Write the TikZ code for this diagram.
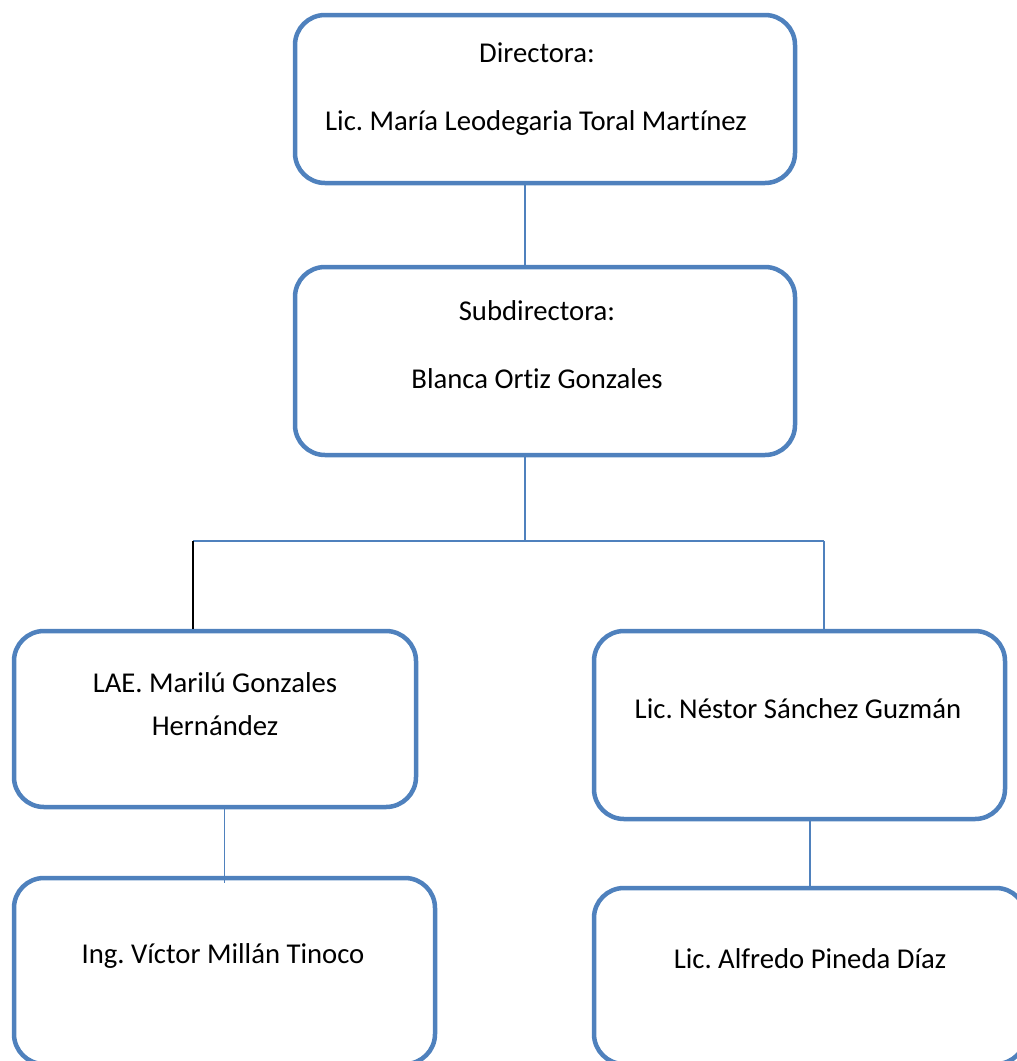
\documentclass[tikz,border=0pt]{standalone}
\usepackage{fontspec}
\setmainfont{Carlito}[Ligatures=NoCommon]
\frenchspacing
\definecolor{azul}{RGB}{79,129,189}

\begin{document}
\begin{tikzpicture}[x=1pt,y=-1pt,
  caja/.style={draw=azul,line width=4.5pt,rounded corners=30pt,inner sep=0pt},
  texto/.style={anchor=base,inner sep=0pt,font=\fontsize{28.7}{35}\selectfont},
  conector/.style={draw=azul,line width=1.8pt}]
\clip (0,0) rectangle (1017,1061);
% cajas
\node [caja,minimum width=500,minimum height=168] (dir) at (545,99) {};
\node [caja,minimum width=500,minimum height=188] (sub) at (545,361) {};
\node [caja,minimum width=402,minimum height=176] (lae) at (215,719) {};
\node [caja,minimum width=411,minimum height=188] (nes) at (799.5,725) {};
\node [caja,minimum width=421,minimum height=186] (ing) at (224.5,971) {};
\node [caja,minimum width=432,minimum height=176] (alf) at (810,976) {};
% textos
\node [texto] (dir1) at (537,62) {Directora:};
\node [texto] (dir2) at (536,130) {Lic. María Leodegaria Toral Martínez};
\node [texto] (sub1) at (537,320) {Subdirectora:};
\node [texto] (sub2) at (537,388) {Blanca Ortiz Gonzales};
\node [texto] (lae1) at (215,692) {LAE. Marilú Gonzales};
\node [texto] (lae2) at (215,735) {Hernández};
\node [texto] (nes1) at (798,718) {Lic. Néstor Sánchez Guzmán};
\node [texto] (ing1) at (223,963) {Ing. Víctor Millán Tinoco};
\node [texto] (alf1) at (810,968) {Lic. Alfredo Pineda Díaz};
% lineas
\coordinate (eje) at (525,0);
\coordinate (ramaL) at (193,541);
\coordinate (ramaR) at (824,541);
\draw [conector] (dir.south -| eje) -- (sub.north -| eje);
\draw [conector] (sub.south -| eje) -- (ramaL -| eje);
\draw [conector] (ramaL) -- (ramaR);
\draw [black,line width=1.8pt] (ramaL) -- (lae.north -| ramaL);
\draw [conector] (ramaR) -- (nes.north -| ramaR);
\draw [conector] (lae.south -| ing.north) -- ([yshift=-7pt]ing.north);
\draw [conector] (nes.south -| alf.north) -- (alf.north);
\end{tikzpicture}
\end{document}
